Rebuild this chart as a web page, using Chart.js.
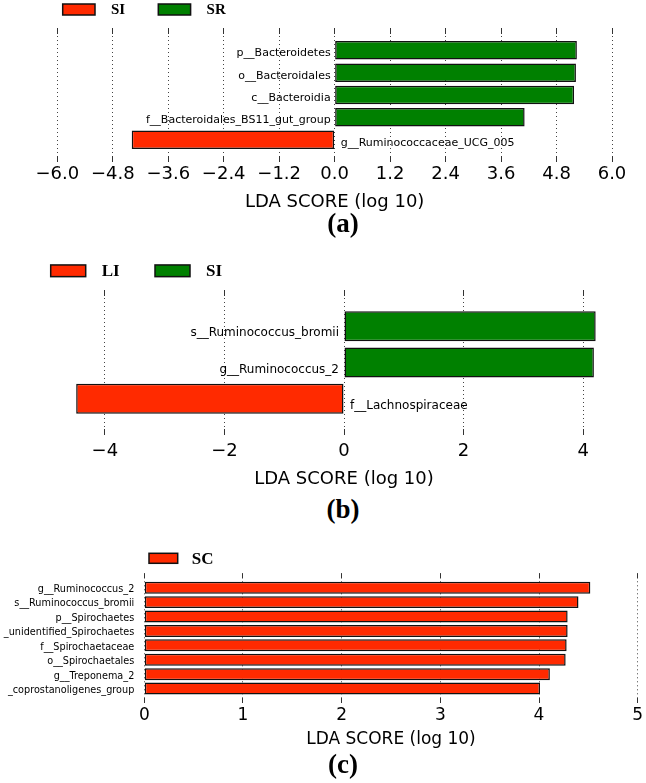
<!DOCTYPE html>
<html><head><meta charset="utf-8">
<script src="https://cdn.jsdelivr.net/npm/chart.js@4.4.1/dist/chart.umd.min.js"></script>
<style>
html,body{margin:0;padding:0;background:#fff;}
body{width:646px;height:783px;position:relative;overflow:hidden;}
canvas{position:absolute;left:0;display:block;}
.cap{position:absolute;left:20px;width:646px;text-align:center;font:bold 27px 'Liberation Serif','Times New Roman',serif;line-height:30px;color:#000;}
</style></head>
<body>
<canvas id="ca" width="646" height="213" style="top:0"></canvas>
<canvas id="cb" width="646" height="240" style="top:250px"></canvas>
<canvas id="cc" width="646" height="210" style="top:540px"></canvas>
<div class="cap" style="top:208px">(a)</div>
<div class="cap" style="top:494px">(b)</div>
<div class="cap" style="top:749px">(c)</div>
<script>
// ---------- Panel (a) ----------
const categoriesA = ['p__Bacteroidetes','o__Bacteroidales','c__Bacteroidia','f__Bacteroidales_BS11_gut_group','g__Ruminococcaceae_UCG_005'];
const scoresA = [5.24, 5.22, 5.18, 4.11, -4.39];
const groupsA = ['SR','SR','SR','SR','SI'];
const classesA = ['SI','SR'];
const ticksA = [-6.0,-4.8,-3.6,-2.4,-1.2,0.0,1.2,2.4,3.6,4.8,6.0];

// ---------- Panel (b) ----------
const categoriesB = ['s__Ruminococcus_bromii','g__Ruminococcus_2','f__Lachnospiraceae'];
const scoresB = [4.21, 4.18, -4.48];
const groupsB = ['SI','SI','LI'];
const classesB = ['LI','SI'];
const ticksB = [-4,-2,0,2,4];

// ---------- Panel (c) ----------
const categoriesC = ['g__Ruminococcus_2','s__Ruminococcus_bromii','p__Spirochaetes','_unidentified_Spirochaetes','f__Spirochaetaceae','o__Spirochaetales','g__Treponema_2','_coprostanoligenes_group'];
const scoresC = [4.52, 4.40, 4.29, 4.29, 4.28, 4.27, 4.11, 4.01];
const groupsC = ['SC','SC','SC','SC','SC','SC','SC','SC'];
const classesC = ['SC'];
const ticksC = [0,1,2,3,4,5];

const axisTitle = 'LDA SCORE (log 10)';
const palette = ['#ff2a00', '#008000'];

Chart.defaults.font.family = "'DejaVu Sans', sans-serif";
Chart.defaults.color = '#000';

const panelCfg = {};

function alignPx(p){ return Math.round(p - 0.5) + 0.5; }

const lefsePlugin = {
  id: 'lefse',
  afterDatasetsDraw(chart) {
    const o = panelCfg[chart.canvas.id]; if (!o) return;
    const ctx = chart.ctx, ys = chart.scales.y, xs = chart.scales.x;
    const pitch = Math.abs(ys.getPixelForValue(1) - ys.getPixelForValue(0));
    const zero = xs.getPixelForValue(0);
    ctx.save();
    ctx.fillStyle = '#000';
    ctx.font = o.labelSize + "px 'DejaVu Sans'";
    ctx.textBaseline = 'alphabetic';
    chart.data.datasets.forEach((ds, d) => {
      const meta = chart.getDatasetMeta(d);
      meta.data.forEach((el, j) => {
        const pt = ds.data[j];
        const name = o.categories[pt.y];
        const yb = el.y + o.baselineShift * pitch;
        if (o.mode === 'axis') { ctx.textAlign = 'right'; ctx.fillText(name, chart.chartArea.left - o.gapAxis, yb); }
        else if (pt.x >= 0) { ctx.textAlign = 'right'; ctx.fillText(name, zero - o.gapPos, yb); }
        else { ctx.textAlign = 'left'; ctx.fillText(name, zero + o.gapNeg, yb); }
      });
    });
    ctx.restore();
  },
  afterDraw(chart) {
    const o = panelCfg[chart.canvas.id]; if (!o) return;
    const ctx = chart.ctx, xs = chart.scales.x, a = chart.chartArea;
    ctx.save();
    ctx.strokeStyle = '#333'; ctx.lineWidth = 1;
    xs.ticks.forEach(t => {
      const px = alignPx(xs.getPixelForValue(t.value));
      ctx.beginPath();
      ctx.moveTo(px, a.top); ctx.lineTo(px, a.top + o.tickLen);
      ctx.moveTo(px, a.bottom); ctx.lineTo(px, a.bottom - o.tickLen);
      ctx.stroke();
    });
    const L = o.legend;
    ctx.font = 'bold ' + L.fontSize + "px 'Liberation Serif'";
    ctx.textBaseline = 'middle'; ctx.textAlign = 'left';
    chart.data.datasets.forEach((ds, k) => {
      const x = L.x[k];
      ctx.fillStyle = ds.backgroundColor;
      ctx.fillRect(x, L.y - L.h / 2, L.w, L.h);
      ctx.strokeStyle = '#111'; ctx.lineWidth = 1.5;
      ctx.strokeRect(x, L.y - L.h / 2, L.w, L.h);
      ctx.fillStyle = '#000';
      ctx.fillText(ds.label, x + L.w + L.gap, L.y + 1);
    });
    ctx.restore();
  }
};
Chart.register(lefsePlugin);

function makeDatasets(scores, groups, classes) {
  return classes.map((cls, k) => ({
    label: cls,
    data: scores.map((v, i) => groups[i] === cls ? {x: v, y: i} : null).filter(d => d),
    backgroundColor: palette[k],
    borderColor: '#111',
    borderWidth: 1.5,
    borderSkipped: false,
    grouped: false,
    barPercentage: 0.83,
    categoryPercentage: 1
  }));
}

function makeChart(id, cats, scores, groups, classes, ticks, c) {
  panelCfg[id] = c;
  c.categories = cats;
  return new Chart(document.getElementById(id), {
    type: 'bar',
    data: { datasets: makeDatasets(scores, groups, classes) },
    options: {
      indexAxis: 'y', responsive: false, animation: false, devicePixelRatio: 1,
      layout: { padding: c.padding },
      plugins: { legend: { display: false }, tooltip: { enabled: false } },
      scales: {
        x: {
          type: 'linear', min: c.xmin, max: c.xmax, z: 1, offset: false,
          afterBuildTicks: s => { s.ticks = ticks.map(v => ({ value: v })); },
          afterFit: s => { s.height = c.axisHeight; },
          grid: { color: '#444', lineWidth: 1, drawTicks: false, offset: false },
          border: { display: false, dash: [1, 3] },
          ticks: { font: { size: c.tickSize }, color: '#000', padding: c.tickPad, maxRotation: 0, autoSkip: false, callback: c.fmt },
          title: { display: true, text: axisTitle, font: { size: c.titleSize }, color: '#000', padding: { top: 0, bottom: 0 } }
        },
        y: { type: 'linear', min: -1, max: cats.length, reverse: true, display: false, offset: false, grid: { offset: false }, ticks: { stepSize: 1 } }
      }
    }
  });
}

const minus = s => s.replace('-', '\u2212');

makeChart('ca', categoriesA, scoresA, groupsA, classesA, ticksA, {
  padding: { top: 28, left: 57.3, right: 34, bottom: 0 }, xmin: -6, xmax: 6,
  axisHeight: 51, tickSize: 18, tickPad: 2, titleSize: 18,
  fmt: v => minus((Math.abs(v) < 1e-9 ? 0 : v).toFixed(1)),
  labelSize: 11, baselineShift: 0.27, gapPos: 4, gapNeg: 6, tickLen: 6, mode: 'inside',
  legend: { x: [62.7, 158.3], y: 9.5, w: 32.3, h: 11, gap: 16, fontSize: 15 }
});

makeChart('cb', categoriesB, scoresB, groupsB, classesB, ticksB, {
  padding: { top: 40, left: 69, right: 27, bottom: 0 }, xmin: -4.6, xmax: 4.6,
  axisHeight: 55, tickSize: 18, tickPad: 6, titleSize: 18,
  fmt: v => minus(String(Math.round(v))),
  labelSize: 12, baselineShift: 0.28, gapPos: 5, gapNeg: 6, tickLen: 6, mode: 'inside',
  legend: { x: [50.7, 155], y: 20.8, w: 35, h: 11.7, gap: 16, fontSize: 17 }
});

makeChart('cc', categoriesC, scoresC, groupsC, classesC, ticksC, {
  padding: { top: 33.3, left: 144.3, right: 8.3, bottom: 0 }, xmin: 0, xmax: 5,
  axisHeight: 47, tickSize: 17, tickPad: 2, titleSize: 17,
  fmt: v => String(Math.round(v)),
  labelSize: 9.7, baselineShift: 0.3, gapAxis: 10, tickLen: 5, mode: 'axis',
  legend: { x: [149], y: 18.3, w: 28.7, h: 10, gap: 14, fontSize: 17 }
});
</script>
</body></html>
